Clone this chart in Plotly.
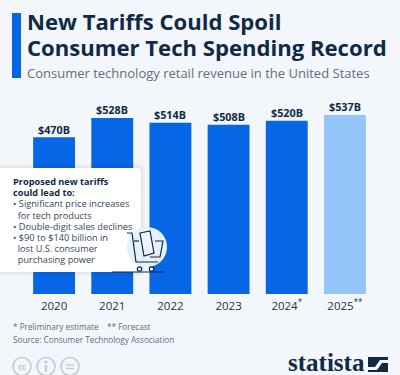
import plotly.graph_objects as go

years = [2020, 2021, 2022, 2023, 2024, 2025]
tick_labels = ["2020", "2021", "2022", "2023", "2024<sup>*</sup>", "2025<sup>**</sup>"]
revenue = [470, 528, 514, 508, 520, 537]
value_labels = ["$470B", "$528B", "$514B", "$508B", "$520B", "$537B"]
bar_colors = ["#0666e5"] * 5 + ["#93c5f8"]

W, H = 400, 375
NAVY = "#0f2a46"
GREY = "#5f6f80"
BODY = "#33465a"
BG = "#f3f6fa"
FONT = "Open Sans"

def px(x):
    return x / W

def py(y):
    return 1 - y / H

fig = go.Figure(go.Bar(
    x=years, y=revenue, marker=dict(color=bar_colors, line_width=0),
    hoverinfo="skip"))

for yr, val, lab in zip(years, revenue, value_labels):
    fig.add_annotation(xref="x", yref="y", x=yr, y=val, text=lab, showarrow=False, xanchor="center", yanchor="middle", yshift=8,
                       font=dict(family=FONT, size=10.8, color=NAVY, weight=700), borderpad=0)

def text(x, y, s, size, color, weight=400, anchor="left", family=FONT, height=None, yanchor="middle"):
    fig.add_annotation(xref="paper", yref="paper", x=px(x), y=py(y), text=s, showarrow=False,
                       xanchor=anchor, yanchor=yanchor, align="left", height=height,
                       font=dict(family=family, size=size, color=color, weight=weight),
                       borderpad=0, borderwidth=0)

def rrect_path(x0, y0, x1, y1, r):
    X0, X1, Y0, Y1 = px(x0), px(x1), py(y0), py(y1)
    rx, ry = r / W, r / H
    return (f"M{X0},{Y0} L{X1-rx},{Y0} Q{X1},{Y0} {X1},{Y0-ry} L{X1},{Y1+ry} "
            f"Q{X1},{Y1} {X1-rx},{Y1} L{X0},{Y1} Z")

shapes = []
def rect(x0, y0, x1, y1, color):
    shapes.append(dict(type="rect", xref="paper", yref="paper", x0=px(x0), x1=px(x1), y0=py(y0), y1=py(y1),
                       fillcolor=color, line_width=0, layer="above"))

def line(pts, color=NAVY, width=1.2):
    d = "M" + " L".join(f"{px(a)},{py(b)}" for a, b in pts)
    shapes.append(dict(type="path", xref="paper", yref="paper", path=d, line=dict(color=color, width=width), layer="above"))

def poly(pts, fill, color=None, width=0):
    d = "M" + " L".join(f"{px(a)},{py(b)}" for a, b in pts) + " Z"
    shapes.append(dict(type="path", xref="paper", yref="paper", path=d, fillcolor=fill,
                       line=dict(color=color or fill, width=width), layer="above"))

def circle(cx, cy, r, fill="rgba(0,0,0,0)", color=NAVY, width=1.2):
    shapes.append(dict(type="circle", xref="paper", yref="paper", x0=px(cx-r), x1=px(cx+r), y0=py(cy+r), y1=py(cy-r),
                       fillcolor=fill, line=dict(color=color, width=width), layer="above"))

# title accent
rect(12, 13, 21, 78, "#0666e5")
# callout shadow layers and box
for grow, col in [(4, "rgba(20,40,70,0.03)"), (2, "rgba(20,40,70,0.04)")]:
    shapes.append(dict(type="path", xref="paper", yref="paper", path=rrect_path(0, 168-grow, 141+grow, 272+grow, 6),
                       fillcolor=col, line_width=0, layer="above"))
shapes.append(dict(type="path", xref="paper", yref="paper", path=rrect_path(0, 168, 141, 272, 5),
                   fillcolor="white", line_width=0, layer="above"))
# cart icon
circle(147, 247, 20, fill="#e6f0fb", color="#e6f0fb", width=0)
line([(127, 233), (132, 233), (136, 262), (158, 262)])
line([(134, 241), (139, 241)])
line([(155, 241), (163, 241), (160, 257), (150, 257)])
line([(112, 272), (164, 272)])
circle(139.5, 269, 2.2, fill="white")
circle(151.5, 269, 2.2, fill="white")
poly([(140, 233), (150, 231), (154, 253), (144, 256)], "#eef4fc", NAVY, 1.2)
# licence icons
for cx in (22, 46, 70):
    circle(cx, 366.5, 9, color="#c4ccd4", width=1.6)
circle(46, 362, 1.6, fill="#c4ccd4", color="#c4ccd4", width=0)
line([(46, 365), (46, 372)], color="#c4ccd4", width=2.4)
line([(66, 365), (74, 365)], color="#c4ccd4", width=1.5)
line([(66, 368.5), (74, 368.5)], color="#c4ccd4", width=1.5)
# statista mark
rect(368, 357, 388, 372, NAVY)
poly([(368, 367), (375, 367), (380, 360), (388, 360), (388, 363), (382, 363), (377, 370), (368, 370)], BG)

fig.update_layout(
    width=W, height=H, autosize=False, margin=dict(l=0, r=0, t=0, b=0),
    paper_bgcolor=BG, plot_bgcolor=BG, showlegend=False, bargap=0.28,
    xaxis=dict(type="linear", range=[2019.5, 2025.5],
               domain=[px(25), px(374)], tickmode="array", tickvals=years, ticktext=tick_labels,
               showgrid=False, showline=False, zeroline=False, ticks="", ticklen=0, ticklabelstandoff=3, tickangle=0,
               tickfont=dict(family=FONT, size=11.5, color="#22344a")),
    yaxis=dict(domain=[py(294), py(94)], range=[0, 600], visible=False),
    shapes=shapes,
)

text(27, 21, "New Tariffs Could Spoil", 22.1, NAVY, 700)
text(27, 47, "Consumer Tech Spending Record", 22.1, NAVY, 700)
text(27, 73.5, "Consumer technology retail revenue in the United States", 13, GREY)

callout_head = ["Proposed new tariffs", "could lead to:"]
callout_body = ["• Significant price increases", "&nbsp;&nbsp;for tech products", "• Double-digit sales declines",
                "• $90 to $140 billion in", "&nbsp;&nbsp;lost U.S. consumer", "&nbsp;&nbsp;purchasing power"]
callout = "<br>".join([f'<span style="font-size:9.2px"><b>{s}</b></span>' for s in callout_head] +
                      [f'<span style="font-size:9.2px;color:{BODY}">{s}</span>' for s in callout_body])
text(12.5, 174.5, callout, 8.6, NAVY, yanchor="top")

text(12.5, 326, "* Preliminary estimate", 8.2, GREY)
text(107, 326, "** Forecast", 8.2, GREY)
text(12.5, 339, "Source: Consumer Technology Association", 8.2, GREY)
text(22, 366.5, "cc", 8, "#c4ccd4", 700, anchor="center")
text(288, 362, "statista", 25, NAVY, 700, family="Liberation Sans Narrow")

fig.write_html("out.html", config={"displayModeBar": False},
               post_script=f"document.body.style.margin='0';document.body.style.background='{BG}';"
                           "document.documentElement.style.overflow='hidden';")
